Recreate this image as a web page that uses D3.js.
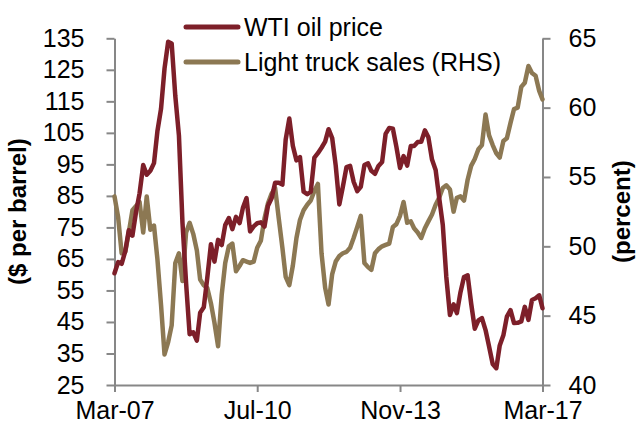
<!DOCTYPE html>
<html>
<head>
<meta charset="utf-8">
<script src="https://cdn.jsdelivr.net/npm/d3@7"></script>
<style>
  html, body { margin: 0; padding: 0; background: #fff; }
  svg { display: block; font-family: "Liberation Sans", Arial, sans-serif; }
</style>
</head>
<body>
<svg id="chart" width="638" height="428"></svg>
<script>
// ---- data (monthly, Mar-07 .. Mar-17) ----
const startMonth = "2007-03";
const wtiPrice = [
  60.44, 63.98, 63.45, 67.49, 74.12, 72.36, 79.92, 85.80, 94.77, 91.69,
  92.97, 95.39, 105.45, 112.58, 125.40, 133.88, 133.37, 116.67, 104.11, 76.61, 57.31, 41.12,
  41.71, 39.09, 47.94, 49.65, 59.03, 69.64, 64.15, 71.05, 69.41, 75.72, 77.99, 74.47,
  78.33, 76.39, 81.20, 84.29, 73.74, 75.34, 76.32, 76.60, 75.24, 81.89, 84.25, 89.15,
  89.17, 88.58, 102.86, 109.53, 100.90, 96.26, 97.30, 86.33, 85.52, 86.32, 97.16, 98.56,
  100.27, 102.20, 106.16, 103.32, 94.66, 82.30, 87.90, 94.13, 94.51, 89.49, 86.53, 87.86,
  94.76, 95.31, 92.94, 92.02, 94.51, 95.77, 104.67, 106.57, 106.29, 100.54, 93.86, 97.63,
  94.62, 100.82, 100.80, 102.07, 102.18, 105.79, 103.59, 96.54, 93.21, 84.40, 75.79, 59.29,
  47.22, 50.58, 47.82, 54.45, 59.27, 59.82, 50.90, 42.87, 45.48, 46.22, 42.44, 37.19,
  31.68, 30.32, 37.55, 40.75, 46.71, 48.76, 44.65, 44.72, 45.18, 49.78, 45.66, 51.97,
  52.50, 53.47, 49.33
];
const truckShare = [
  53.6, 52.1, 49.5, 49.6, 51.0, 52.6, 52.9, 53.2, 51.0, 53.6,
  51.2, 51.5, 49.1, 45.8, 42.2, 43.1, 44.3, 48.8, 49.5, 47.5,
  51.0, 51.7, 50.9, 49.7, 47.6, 47.2, 47.0, 45.9, 44.5, 42.8,
  46.5, 48.8, 50.0, 50.2, 48.2, 48.6, 49.0, 48.9, 48.8, 48.9,
  49.9, 50.4, 52.0, 53.1, 53.8, 54.2, 52.0, 49.9, 47.8, 47.2,
  48.6, 50.6, 51.9, 52.6, 53.0, 53.3, 54.0, 54.5, 49.5, 47.0,
  45.8, 48.0, 48.9, 49.3, 49.5, 49.6, 49.9, 50.6, 51.4, 52.2,
  48.8, 48.5, 48.3, 49.5, 49.8, 50.0, 50.1, 50.2, 51.4, 51.6,
  52.2, 53.2, 51.7, 51.8, 51.3, 51.0, 50.6, 51.3, 51.8, 52.3,
  53.0, 53.5, 54.2, 54.4, 54.1, 52.5, 53.5, 53.6, 53.3, 54.8,
  55.8, 56.3, 57.0, 57.3, 59.5, 58.0, 57.3, 56.7, 56.4, 57.6,
  57.8, 58.9, 59.9, 60.0, 61.5, 61.8, 63.0, 62.5, 62.3, 61.2,
  60.6
];
const xTickLabels = ["Mar-07", "Jul-10", "Nov-13", "Mar-17"];
const leftTicks = [25, 35, 45, 55, 65, 75, 85, 95, 105, 115, 125, 135];
const rightTicks = [40, 45, 50, 55, 60, 65];
const seriesNames = ["WTI oil price", "Light truck sales (RHS)"];
const seriesColors = ["#7D1F29", "#8C7853"];
const leftTitle = "($ per barrel)";
const rightTitle = "(percent)";

// ---- build dates ----
const parseMonth = d3.timeParse("%Y-%m");
const t0 = parseMonth(startMonth);
const dates = wtiPrice.map((_, i) => d3.timeMonth.offset(t0, i));
const fmt = d3.timeFormat("%b-%y");
const parseLabel = d3.timeParse("%b-%y");
const xTickDates = xTickLabels.map(parseLabel);

// ---- layout ----
const svg = d3.select("#chart");
const L = 114.5, R = 542.5, T = 38.3, B = 385;
const axisColor = "#878787";
const fontSize = 25;

const x = d3.scaleTime().domain([dates[0], dates[dates.length - 1]]).range([L, R]);
const yL = d3.scaleLinear().domain([25, 135]).range([B, T]);
const yR = d3.scaleLinear().domain([40, 65]).range([B, T]);

// axes
const gx = svg.append("g").attr("transform", `translate(0,${B})`)
  .call(d3.axisBottom(x).tickValues(xTickDates).tickFormat(fmt).tickSize(7).tickPadding(9).tickSizeOuter(0));
const gl = svg.append("g").attr("transform", `translate(${L},0)`)
  .call(d3.axisLeft(yL).tickValues(leftTicks).tickFormat(d3.format("d")).tickSize(8).tickPadding(22).tickSizeOuter(0));
const gr = svg.append("g").attr("transform", `translate(${R},0)`)
  .call(d3.axisRight(yR).tickValues(rightTicks).tickFormat(d3.format("d")).tickSize(8).tickPadding(18).tickSizeOuter(0));

[gx, gl, gr].forEach(g => {
  g.select(".domain").attr("stroke", axisColor).attr("stroke-width", 2);
  g.selectAll(".tick line").attr("stroke", axisColor).attr("stroke-width", 2);
  g.selectAll(".tick text").attr("fill", "#000").style("font-size", fontSize + "px")
    .style("font-family", '"Liberation Sans", Arial, sans-serif');
});

// lines
const lineL = d3.line().x((d, i) => x(dates[i])).y(d => yL(d)).curve(d3.curveLinear);
const lineR = d3.line().x((d, i) => x(dates[i])).y(d => yR(d)).curve(d3.curveLinear);

svg.append("path").datum(truckShare)
  .attr("d", lineR).attr("fill", "none").attr("stroke", seriesColors[1])
  .attr("stroke-width", 4.5).attr("stroke-linejoin", "round").attr("stroke-linecap", "round");
svg.append("path").datum(wtiPrice)
  .attr("d", lineL).attr("fill", "none").attr("stroke", seriesColors[0])
  .attr("stroke-width", 4.5).attr("stroke-linejoin", "round").attr("stroke-linecap", "round");

// legend
const legend = svg.append("g");
seriesNames.forEach((name, i) => {
  const yy = 27 + i * 35;
  legend.append("line").attr("x1", 186).attr("x2", 238).attr("y1", yy).attr("y2", yy)
    .attr("stroke", seriesColors[i]).attr("stroke-width", 5).attr("stroke-linecap", "round");
  legend.append("text").attr("x", 244).attr("y", yy).attr("dy", "0.35em")
    .style("font-size", fontSize + "px").attr("fill", "#000").text(name);
});

// axis titles
svg.append("text").attr("transform", `translate(26,${(T + B) / 2}) rotate(-90)`)
  .attr("text-anchor", "middle").style("font-size", "24px").style("font-weight", "bold")
  .text(leftTitle);
svg.append("text").attr("transform", `translate(613,${(T + B) / 2}) rotate(-90)`)
  .attr("text-anchor", "middle").attr("dy", "0.7em").style("font-size", "24px").style("font-weight", "bold")
  .text(rightTitle);
</script>
</body>
</html>
